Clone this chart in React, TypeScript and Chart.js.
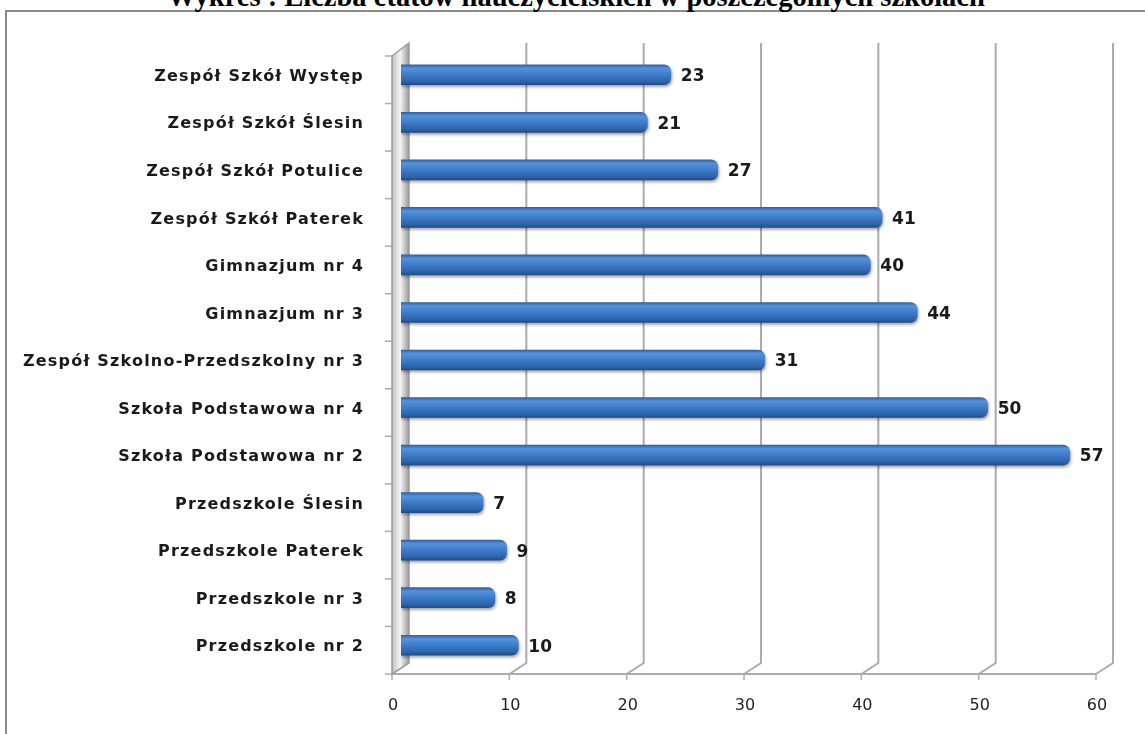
import React, { useEffect, useRef } from "react";
import { Chart, registerables } from "chart.js";

Chart.register(...registerables);

const TITLE = "Wykres : Liczba etatów nauczycielskich w poszczególnych szkołach";

const categories = [
  "Zespół Szkół Występ",
  "Zespół Szkół Ślesin",
  "Zespół Szkół Potulice",
  "Zespół Szkół Paterek",
  "Gimnazjum nr 4",
  "Gimnazjum nr 3",
  "Zespół Szkolno-Przedszkolny nr 3",
  "Szkoła Podstawowa nr 4",
  "Szkoła Podstawowa nr 2",
  "Przedszkole Ślesin",
  "Przedszkole Paterek",
  "Przedszkole nr 3",
  "Przedszkole nr 2",
];

const values = [23, 21, 27, 41, 40, 44, 31, 50, 57, 7, 9, 8, 10];

const xTicks = [0, 10, 20, 30, 40, 50, 60];

// 3D depth offsets (back wall and front floor edge relative to the bar plane)
const BACK_DX = 8;
const BACK_DY = -6;
const FRONT_DX = -9;
const FRONT_DY = 5;

const depthPlugin = {
  id: "depth3d",
  beforeDraw(chart: any) {
    (chart.ctx as any).letterSpacing = "1.2px";
  },
  afterDraw(chart: any) {
    (chart.ctx as any).letterSpacing = "0px";
  },
  beforeDatasetsDraw(chart: any) {
    const ctx = chart.ctx as CanvasRenderingContext2D;
    const xs = chart.scales.x;
    const { top, bottom } = chart.chartArea;
    const x0 = xs.getPixelForValue(0);
    ctx.save();
    ctx.strokeStyle = "#ababab";
    ctx.lineWidth = 2;
    for (const v of xTicks) {
      if (v === 0) continue;
      const x = xs.getPixelForValue(v);
      ctx.beginPath();
      ctx.moveTo(x + BACK_DX, top + BACK_DY - 2);
      ctx.lineTo(x + BACK_DX, bottom + BACK_DY);
      ctx.lineTo(x + FRONT_DX, bottom + FRONT_DY);
      ctx.stroke();
    }
    const x60 = xs.getPixelForValue(xTicks[xTicks.length - 1]);
    ctx.beginPath();
    ctx.moveTo(x0 + FRONT_DX, bottom + FRONT_DY);
    ctx.lineTo(x60 + FRONT_DX, bottom + FRONT_DY);
    ctx.stroke();
    ctx.lineWidth = 1.5;
    for (const v of xTicks) {
      const x = xs.getPixelForValue(v) + FRONT_DX;
      ctx.beginPath();
      ctx.moveTo(x, bottom + FRONT_DY);
      ctx.lineTo(x, bottom + FRONT_DY + 6);
      ctx.stroke();
    }
    const n = categories.length;
    for (let i = 0; i <= n; i++) {
      const y = top + (i * (bottom - top)) / n + FRONT_DY;
      ctx.beginPath();
      ctx.moveTo(x0 + FRONT_DX - 7, y);
      ctx.lineTo(x0 + FRONT_DX, y);
      ctx.stroke();
    }
    const wl = x0 + FRONT_DX;
    const wr = x0 + BACK_DX;
    const g = ctx.createLinearGradient(wl, 0, wr, 0);
    g.addColorStop(0, "#bcbcbc");
    g.addColorStop(0.3, "#e2e2e2");
    g.addColorStop(0.5, "#f2f2f2");
    g.addColorStop(0.8, "#bdbdbd");
    g.addColorStop(1, "#9a9a9a");
    ctx.fillStyle = g;
    ctx.beginPath();
    ctx.moveTo(wl, top + FRONT_DY);
    ctx.lineTo(wr, top + BACK_DY - 2);
    ctx.lineTo(wr, bottom + BACK_DY);
    ctx.lineTo(wl, bottom + FRONT_DY);
    ctx.closePath();
    ctx.fill();
    ctx.strokeStyle = "#9c9c9c";
    ctx.lineWidth = 1.5;
    ctx.stroke();
    ctx.restore();
    ctx.save();
    ctx.shadowColor = "rgba(0,0,0,0.35)";
    ctx.shadowBlur = 3;
    ctx.shadowOffsetX = 1;
    ctx.shadowOffsetY = 2;
  },
  afterDatasetsDraw(chart: any) {
    const ctx = chart.ctx as CanvasRenderingContext2D;
    ctx.restore();
    (ctx as any).letterSpacing = "0px";
    const meta = chart.getDatasetMeta(0);
    ctx.save();
    ctx.font = "bold 17px 'DejaVu Sans'";
    ctx.fillStyle = "#1a1a1a";
    ctx.textAlign = "left";
    ctx.textBaseline = "middle";
    meta.data.forEach((bar: any, i: number) => {
      ctx.fillText(String(values[i]), bar.x + 10, bar.y + 2);
    });
    ctx.restore();
  },
};

function barFill(c: any) {
  const chart = c.chart;
  const ys = chart.scales && chart.scales.y;
  if (!ys || c.dataIndex == null) return "#3a78c4";
  const cy = ys.getPixelForValue(c.dataIndex);
  if (!isFinite(cy)) return "#3a78c4";
  const g = chart.ctx.createLinearGradient(0, cy - 10, 0, cy + 10);
  g.addColorStop(0, "#2f62a6");
  g.addColorStop(0.18, "#5592dc");
  g.addColorStop(0.5, "#3d7cc9");
  g.addColorStop(0.85, "#2d63a8");
  g.addColorStop(1, "#1f4c87");
  return g;
}

export default function App() {
  const ref = useRef<HTMLCanvasElement | null>(null);
  useEffect(() => {
    if (!ref.current) return;
    const chart = new Chart(ref.current, {
      type: "bar",
      data: {
        labels: categories,
        datasets: [
          {
            data: values,
            backgroundColor: barFill as any,
            borderWidth: 0,
            borderRadius: 7,
            barThickness: 20,
          },
        ],
      },
      options: {
        indexAxis: "y",
        responsive: false,
        animation: false,
        events: [],
        layout: { padding: { left: 0, right: 40, top: 51, bottom: 0 } },
        plugins: {
          legend: { display: false },
          title: { display: false },
          tooltip: { enabled: false },
        },
        scales: {
          x: {
            min: 0,
            max: 60,
            grid: { display: false, drawTicks: false },
            border: { display: false },
            ticks: {
              z: 1,
              stepSize: 10,
              padding: 27,
              labelOffset: -8,
              color: "#1f1f1f",
              font: { family: "'DejaVu Sans'", size: 16 },
            },
            afterFit: (s: any) => {
              s.height = 65;
            },
          },
          y: {
            grid: { display: false, drawTicks: false },
            border: { display: false },
            ticks: {
              padding: 37,
              labelOffset: 2,
              color: "#1a1a1a",
              font: { family: "'DejaVu Sans'", size: 16, weight: "bold" },
            },
            afterFit: (s: any) => {
              s.width = 401;
            },
          },
        },
      },
      plugins: [depthPlugin],
    });
    return () => chart.destroy();
  }, []);

  return (
    <div
      style={{
        position: "fixed",
        left: 0,
        top: 0,
        width: 1145,
        height: 734,
        overflow: "hidden",
        background: "#ffffff",
      }}
    >
      <div
        style={{
          position: "absolute",
          left: 5,
          top: 10,
          width: 1200,
          height: 800,
          border: "2px solid #8a8a8a",
        }}
      />
      <div
        style={{
          position: "absolute",
          left: 0,
          top: -17,
          width: 1152,
          textAlign: "center",
          fontFamily: "'Liberation Serif', serif",
          fontWeight: "bold",
          fontSize: 28.5,
          lineHeight: "28px",
          color: "#000",
          whiteSpace: "nowrap",
        }}
      >
        {TITLE}
      </div>
      <canvas
        ref={ref}
        width={1145}
        height={734}
        style={{ position: "absolute", left: 0, top: 0 }}
      />
    </div>
  );
}
